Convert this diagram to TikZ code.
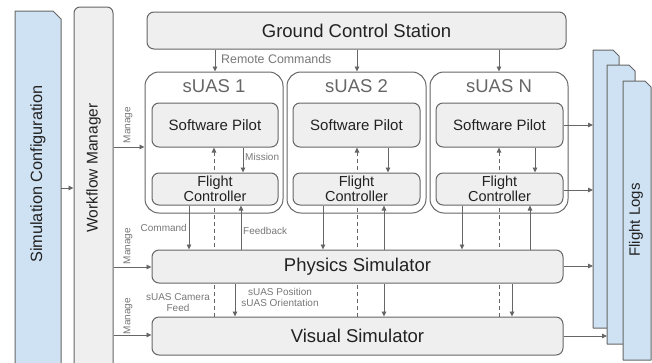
\documentclass[tikz,border=0pt]{standalone}
\usepackage{fontspec}
\setmainfont{Liberation Sans}
\usetikzlibrary{arrows.meta,backgrounds}
\definecolor{boxfill}{HTML}{EFEFEF}
\definecolor{boxline}{HTML}{666666}
\definecolor{docblue}{HTML}{CFE2F3}
\definecolor{lbl}{HTML}{777777}
\definecolor{txt}{HTML}{222222}
\begin{document}
\begin{tikzpicture}[x=1pt,y=-1pt,
  box/.style={draw=boxline,fill=boxfill,line width=1pt,rounded corners=7pt,inner sep=0pt,text=txt},
  group/.style={draw=boxline,line width=1pt,rounded corners=14pt,inner sep=0pt},
  ghost/.style={inner sep=0pt,outer sep=0pt},
  docshape/.style={draw=boxline,fill=docblue,line width=1pt,line join=round},
  big/.style={font=\fontsize{18.5}{22}\selectfont},
  mid/.style={font=\fontsize{15}{17}\selectfont},
  fcfont/.style={font=\fontsize{14.5}{15}\selectfont},
  small/.style={font=\fontsize{10}{11.5}\selectfont,text=lbl,inner sep=1pt},
  title/.style={font=\fontsize{18.5}{22}\selectfont,text=boxline},
  arr/.style={draw=boxline,line width=0.9pt,-{Triangle[length=5pt,width=4.5pt]}},
  dasharr/.style={draw=boxline,line width=0.9pt,dash pattern=on 4pt off 3pt,-{Triangle[length=5pt,width=4.5pt]}},
  dashline/.style={draw=boxline,line width=0.9pt,dash pattern=on 4pt off 3pt}
]
\useasboundingbox (0,0) rectangle (652,362);
\clip (0,0) rectangle (652,362);

% Simulation configuration document
\node[ghost,minimum width=46pt,minimum height=369pt] (sim) at (38,195.5) {};
\path[docshape] (sim.south west) -- (sim.north west) -- ([xshift=-8pt]sim.north east) -- ([yshift=-8pt]sim.north east) -- (sim.south east) -- cycle;
\node[big,rotate=90,font=\fontsize{16.3}{19}\selectfont,text=txt] (simtext) at (38,174) {Simulation Configuration};

% Workflow manager
\node[box,rounded corners=6pt,minimum width=39pt,minimum height=373pt] (wf) at (93.5,193.5) {};
\node[rotate=90,font=\fontsize{15.5}{18}\selectfont,text=txt] (wftext) at (93.5,168) {Workflow Manager};

% Ground control station
\node[box,big,minimum width=419pt,minimum height=37pt] (gcs) at (356.5,30.5) {Ground Control Station};

% sUAS groups
\node[group,minimum width=138pt,minimum height=141pt] (s1) at (214,142.5) {};
\node[group,minimum width=139pt,minimum height=141pt] (s2) at (356.5,142.5) {};
\node[group,minimum width=138pt,minimum height=141pt] (sN) at (499,142.5) {};
\node[title] (t1) at (214,86) {sUAS 1};
\node[title] (t2) at (356.5,86) {sUAS 2};
\node[title] (tN) at (499,86) {sUAS N};

% Software pilots
\node[box,mid,minimum width=126pt,minimum height=44pt] (sp1) at (215,125) {Software Pilot};
\node[box,mid,minimum width=127pt,minimum height=44pt] (sp2) at (356.5,125) {Software Pilot};
\node[box,mid,minimum width=127pt,minimum height=44pt] (spN) at (499.5,125) {Software Pilot};

% Flight controllers
\node[box,fcfont,align=center,minimum width=126pt,minimum height=32pt] (fc1) at (215,189) {Flight\\Controller};
\node[box,fcfont,align=center,minimum width=127pt,minimum height=32pt] (fc2) at (356.5,189) {Flight\\Controller};
\node[box,fcfont,align=center,minimum width=127pt,minimum height=32pt] (fcN) at (499.5,189) {Flight\\Controller};

% Simulators
\node[box,big,minimum width=411pt,minimum height=33pt] (phys) at (357.5,266.5) {Physics Simulator};
\node[box,big,minimum width=411pt,minimum height=38pt] (vis) at (357.5,336) {Visual Simulator};

% Flight logs
\node[ghost,minimum width=26pt,minimum height=278pt] (fl1) at (606,189) {};
\path[docshape] (fl1.south west) -- (fl1.north west) -- ([xshift=-6pt]fl1.north east) -- ([yshift=-6pt]fl1.north east) -- (fl1.south east) -- cycle;
\node[ghost,minimum width=28pt,minimum height=279pt] (fl2) at (621,204.5) {};
\path[docshape] (fl2.south west) -- (fl2.north west) -- ([xshift=-6pt]fl2.north east) -- ([yshift=-6pt]fl2.north east) -- (fl2.south east) -- cycle;
\node[ghost,minimum width=28pt,minimum height=279pt] (fl3) at (637,220.5) {};
\path[docshape] (fl3.south west) -- (fl3.north west) -- ([xshift=-6pt]fl3.north east) -- ([yshift=-6pt]fl3.north east) -- (fl3.south east) -- cycle;
\node[rotate=90,mid,text=txt] (fltext) at (636,220) {Flight Logs};

% dashed camera feed lines (behind boxes)
\begin{scope}[on background layer]
  \draw[dasharr] (vis.north -| 214,0) -- (sp1.south -| 214,0);
  \draw[dasharr] (vis.north -| 357,0) -- (sp2.south -| 357,0);
  \draw[dasharr] (vis.north -| 499,0) -- (spN.south -| 499,0);
\end{scope}

% sim config -> workflow
\draw[arr] (sim.east |- 0,188) -- (wf.west |- 0,188);
% manage
\draw[arr] (wf.east |- 0,147) -- (s1.west |- 0,147);
\draw[arr] (wf.east |- 0,267) -- (phys.west |- 0,267);
\draw[arr] (wf.east |- 0,335) -- (vis.west |- 0,335);
\node[small,rotate=90] (m1) at (128,125) {Manage};
\node[small,rotate=90] (m2) at (128,246) {Manage};
\node[small,rotate=90] (m3) at (128,316) {Manage};

% remote commands
\draw[arr] (gcs.south -| 215,0) -- (s1.north -| 215,0);
\draw[arr] (gcs.south -| 357,0) -- (s2.north -| 357,0);
\draw[arr] (gcs.south -| 499,0) -- (sN.north -| 499,0);
\node[small,anchor=west,font=\fontsize{12.4}{14}\selectfont] (rc) at (220,59) {Remote Commands};

% mission
\draw[arr] (sp1.south -| 243,0) -- (fc1.north -| 243,0);
\draw[arr] (sp2.south -| 388,0) -- (fc2.north -| 388,0);
\draw[arr] (spN.south -| 535,0) -- (fcN.north -| 535,0);
\node[small,anchor=west] (mis) at (244,157) {Mission};

% command
\draw[arr] (fc1.south -| 189,0) -- (phys.north -| 189,0);
\draw[arr] (fc2.south -| 323,0) -- (phys.north -| 323,0);
\draw[arr] (fcN.south -| 462,0) -- (phys.north -| 462,0);
\node[small,anchor=east] (cmd) at (188,228) {Command};

% feedback
\draw[arr] (phys.north -| 241,0) -- (fc1.south -| 241,0);
\draw[arr] (phys.north -| 384,0) -- (fc2.south -| 384,0);
\draw[arr] (phys.north -| 530,0) -- (fcN.south -| 530,0);
\node[small,anchor=west] (fb) at (242,231) {Feedback};

% position / orientation
\draw[arr] (phys.south -| 235,0) -- (vis.north -| 235,0);
\draw[arr] (phys.south -| 384,0) -- (vis.north -| 384,0);
\draw[arr] (phys.south -| 512,0) -- (vis.north -| 512,0);
\node[small,align=center] (pos) at (280,297.5) {sUAS Position\\sUAS Orientation};
\node[small,align=center] (cam) at (178,302.5) {sUAS Camera\\Feed};

% to flight logs
\draw[arr] (spN.east |- 0,125) -- (fl1.west |- 0,125);
\draw[arr] (fcN.east |- 0,190) -- (fl1.west |- 0,190);
\draw[arr] (phys.east |- 0,266) -- (fl1.west |- 0,266);
\draw[arr] (vis.east |- 0,336) -- (fl2.west |- 0,336);
\end{tikzpicture}
\end{document}
